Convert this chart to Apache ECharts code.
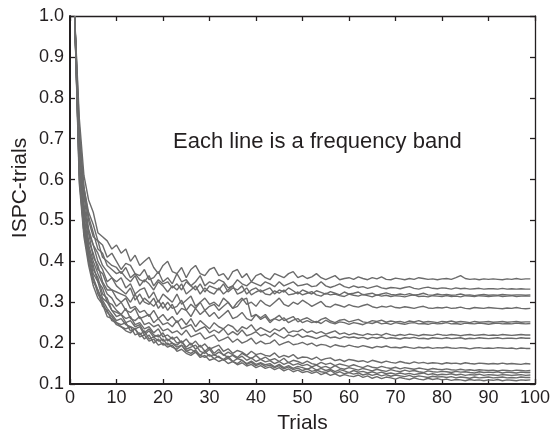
<!DOCTYPE html>
<html>
<head>
<meta charset="utf-8">
<script src="https://cdn.jsdelivr.net/npm/echarts@6/dist/echarts.min.js"></script>
<style>html,body{margin:0;padding:0;background:#fff}#c{width:555px;height:435px}</style>
</head>
<body>
<div id="c"></div>
<script>
// Trials 1..99 ; one array per frequency band
const xTicks = [0,10,20,30,40,50,60,70,80,90,100];
const yTicks = [0.1,0.2,0.3,0.4,0.5,0.6,0.7,0.8,0.9,1.0];

const band01 = [1,.75,.61,.55,.52,.47,.46,.45,.43,.44, .42,.43,.40,.415,.39,.40,.41,.385,.37,.39, .40,.375,.37,.385,.36,.38,.39,.37,.365,.38, .385,.365,.37,.355,.375,.38,.36,.37,.35,.365, .37,.36,.355,.37,.365,.36,.37,.375,.36,.365, .358,.362,.37,.36,.355,.36,.365,.355,.358,.36, .356,.362,.358,.355,.36,.357,.362,.356,.355,.359, .357,.355,.358,.356,.36,.358,.356,.357,.355,.357, .358,.356,.36,.365,.358,.356,.357,.355,.357,.356, .357,.356,.355,.357,.356,.358,.356,.357,.357];
const band02 = [1,.71,.58,.52,.49,.45,.44,.41,.42,.40, .38,.395,.39,.37,.365,.38,.355,.36,.375,.35, .36,.345,.37,.35,.355,.34,.35,.365,.34,.35, .345,.355,.35,.335,.34,.355,.345,.34,.35,.345, .34,.35,.345,.338,.35,.34,.345,.35,.34,.342, .345,.338,.34,.35,.34,.336,.34,.345,.338,.335, .34,.336,.338,.334,.337,.34,.335,.333,.336,.335, .333,.336,.338,.334,.332,.335,.337,.334,.333,.335, .334,.332,.335,.333,.334,.332,.333,.334,.332,.333, .333,.332,.334,.332,.333,.332,.333,.332,.332];
const band03 = [1,.70,.57,.50,.46,.45,.41,.40,.39,.385, .37,.385,.36,.37,.355,.35,.365,.34,.355,.345, .35,.335,.345,.33,.35,.34,.33,.345,.325,.34, .335,.33,.345,.325,.335,.33,.34,.32,.33,.335, .325,.33,.335,.32,.33,.325,.335,.328,.32,.33, .325,.32,.328,.324,.32,.326,.322,.318,.325,.32, .322,.325,.318,.32,.322,.317,.32,.323,.319,.318, .32,.318,.321,.317,.319,.322,.318,.317,.32,.318, .319,.317,.318,.32,.317,.318,.316,.318,.319,.317, .318,.317,.319,.318,.317,.318,.318,.317,.318];
const band04 = [1,.73,.58,.51,.47,.43,.42,.39,.38,.37, .375,.36,.35,.365,.34,.355,.345,.33,.35,.34, .325,.34,.33,.345,.32,.33,.34,.32,.335,.325, .32,.335,.32,.33,.34,.32,.325,.335,.318,.325, .33,.32,.318,.328,.322,.33,.318,.32,.325,.318, .322,.326,.318,.315,.322,.318,.32,.316,.314,.32, .317,.315,.319,.316,.313,.318,.315,.317,.314,.316, .315,.313,.316,.318,.314,.315,.313,.316,.315,.314, .316,.314,.315,.313,.316,.315,.314,.316,.315,.314, .315,.316,.314,.315,.316,.314,.315,.315,.315];
const band05 = [1,.69,.56,.48,.44,.42,.39,.375,.36,.35, .36,.335,.345,.32,.33,.335,.31,.325,.30,.32, .31,.30,.32,.295,.305,.315,.29,.30,.31,.295, .30,.29,.31,.30,.285,.30,.31,.295,.30,.29, .305,.295,.29,.30,.31,.295,.29,.30,.295,.305, .298,.29,.296,.302,.29,.288,.295,.292,.288,.294, .29,.288,.292,.295,.289,.286,.29,.288,.291,.287, .286,.289,.287,.285,.288,.29,.286,.285,.287,.286, .288,.285,.286,.288,.285,.284,.287,.286,.285,.287, .286,.285,.284,.286,.285,.287,.285,.284,.285];
const band06 = [1,.68,.54,.47,.44,.40,.38,.35,.36,.34, .33,.32,.335,.305,.32,.30,.295,.31,.285,.30, .28,.295,.27,.285,.28,.265,.285,.27,.28,.265, .275,.26,.27,.28,.26,.265,.275,.26,.255,.27, .262,.27,.255,.26,.268,.255,.26,.265,.252,.258, .262,.255,.25,.258,.262,.254,.25,.256,.258,.252, .255,.258,.252,.25,.255,.253,.256,.251,.254,.252, .253,.25,.254,.252,.255,.251,.253,.252,.25,.253, .252,.254,.251,.253,.252,.25,.253,.251,.252,.253, .251,.252,.253,.251,.252,.253,.251,.252,.252];
const band07 = [1,.66,.53,.45,.42,.38,.37,.34,.33,.325, .32,.315,.30,.32,.295,.31,.30,.29,.305,.285, .30,.285,.29,.305,.28,.295,.285,.30,.28,.29, .295,.28,.29,.30,.285,.29,.305,.31,.265,.27, .258,.265,.25,.26,.255,.262,.25,.256,.26,.25, .255,.25,.253,.248,.256,.25,.247,.252,.25,.246, .25,.248,.245,.25,.248,.252,.247,.249,.246,.25, .248,.246,.249,.25,.247,.248,.246,.249,.247,.248, .25,.247,.248,.246,.249,.248,.247,.249,.248,.246, .248,.249,.247,.248,.247,.249,.248,.247,.248];
const band08 = [1,.67,.52,.47,.41,.39,.35,.33,.33,.31, .30,.31,.285,.29,.275,.28,.265,.28,.26,.27, .255,.265,.25,.26,.245,.26,.24,.255,.245,.235, .25,.24,.235,.245,.24,.228,.24,.235,.245,.23, .238,.232,.226,.235,.23,.238,.225,.23,.228,.234, .226,.23,.224,.228,.222,.226,.23,.222,.225,.22, .224,.221,.219,.223,.22,.222,.219,.224,.22,.218, .221,.219,.222,.22,.218,.221,.22,.219,.222,.22, .219,.221,.22,.218,.22,.221,.219,.22,.221,.219, .22,.219,.221,.22,.219,.22,.221,.22,.22];
const band09 = [1,.64,.51,.44,.40,.37,.345,.32,.31,.29, .30,.28,.275,.285,.26,.265,.27,.25,.26,.245, .25,.24,.255,.235,.24,.245,.228,.235,.24,.225, .232,.225,.235,.22,.228,.22,.232,.218,.222,.228, .218,.222,.215,.225,.218,.212,.22,.216,.222,.214, .218,.215,.211,.216,.219,.213,.215,.211,.216,.213, .215,.212,.214,.21,.214,.212,.215,.211,.213,.212, .21,.213,.212,.214,.211,.212,.21,.213,.212,.211, .213,.211,.212,.213,.21,.212,.211,.213,.212,.211, .212,.213,.211,.212,.212,.211,.213,.212,.212];
const band10 = [1,.65,.50,.43,.39,.35,.335,.30,.295,.28, .27,.285,.26,.255,.265,.245,.25,.24,.245,.23, .235,.225,.23,.22,.232,.215,.22,.225,.21,.215, .22,.205,.21,.215,.202,.21,.20,.205,.212,.198, .205,.198,.20,.208,.195,.20,.204,.196,.198,.202, .196,.20,.193,.197,.195,.19,.196,.193,.191,.195, .192,.19,.194,.191,.188,.192,.19,.193,.189,.19, .188,.191,.189,.187,.19,.188,.19,.187,.189,.188, .19,.188,.187,.189,.188,.186,.188,.189,.187,.188, .187,.189,.188,.187,.188,.186,.188,.187,.187];
const band11 = [1,.63,.49,.43,.38,.36,.32,.31,.28,.275, .27,.26,.265,.245,.25,.235,.24,.225,.235,.215, .22,.21,.215,.20,.21,.195,.205,.19,.198,.185, .19,.195,.18,.186,.175,.182,.178,.17,.18,.172, .175,.17,.168,.176,.165,.17,.166,.172,.162,.166, .165,.16,.166,.158,.162,.164,.157,.16,.155,.16, .158,.155,.157,.153,.158,.155,.152,.156,.153,.151, .155,.152,.15,.154,.151,.153,.15,.152,.151,.149, .152,.15,.151,.149,.152,.15,.149,.151,.15,.149, .15,.149,.151,.149,.15,.149,.148,.15,.149];
const band12 = [1,.62,.48,.42,.37,.35,.31,.30,.28,.265, .27,.25,.255,.24,.245,.225,.235,.22,.215,.225, .205,.215,.20,.205,.19,.20,.185,.195,.18,.19, .175,.185,.17,.178,.172,.165,.175,.168,.162,.17, .16,.166,.158,.162,.155,.163,.152,.158,.155,.15, .156,.15,.147,.153,.148,.151,.145,.149,.146,.143, .147,.143,.14,.145,.141,.139,.143,.14,.138,.141, .137,.14,.138,.136,.139,.137,.135,.138,.136,.135, .137,.135,.134,.136,.134,.135,.133,.135,.134,.133, .134,.132,.134,.133,.132,.134,.133,.132,.133];
const band13 = [1,.61,.47,.41,.36,.33,.305,.285,.27,.255, .26,.245,.24,.235,.24,.22,.23,.215,.22,.205, .21,.20,.195,.205,.185,.19,.195,.18,.175,.185, .17,.178,.172,.165,.17,.162,.168,.158,.164,.155, .16,.154,.157,.15,.155,.148,.153,.146,.15,.145, .148,.142,.146,.14,.143,.138,.145,.139,.136,.14, .137,.134,.138,.135,.132,.136,.133,.131,.135,.132, .13,.134,.131,.133,.13,.128,.132,.13,.129,.131, .13,.128,.131,.129,.13,.128,.127,.13,.128,.129, .128,.13,.127,.129,.128,.127,.129,.128,.128];
const band14 = [1,.60,.47,.40,.36,.32,.30,.275,.265,.25, .245,.25,.23,.235,.22,.23,.21,.215,.205,.21, .195,.20,.19,.195,.18,.185,.178,.17,.18,.168, .172,.165,.16,.168,.155,.162,.158,.15,.156,.148, .152,.147,.15,.142,.148,.14,.145,.138,.143,.14, .136,.141,.134,.138,.133,.136,.13,.135,.132,.128, .133,.129,.131,.127,.13,.126,.129,.125,.127,.124, .127,.124,.126,.123,.125,.127,.123,.125,.122,.124, .123,.125,.122,.124,.121,.123,.122,.124,.121,.123, .122,.121,.123,.122,.121,.122,.123,.121,.122];
const band15 = [1,.62,.48,.40,.35,.33,.29,.28,.255,.25, .24,.235,.24,.22,.225,.21,.22,.20,.21,.195, .20,.19,.185,.195,.18,.175,.183,.17,.165,.172, .162,.168,.158,.163,.155,.15,.158,.148,.153,.145, .15,.143,.146,.14,.145,.137,.142,.135,.139,.133, .137,.131,.134,.13,.128,.133,.126,.13,.125,.128, .124,.127,.122,.125,.121,.124,.12,.123,.119,.122, .12,.118,.121,.117,.12,.118,.116,.119,.117,.118, .116,.118,.115,.117,.116,.114,.117,.115,.116,.117, .115,.116,.117,.115,.116,.115,.117,.116,.116];
const band16 = [1,.59,.46,.39,.34,.31,.295,.265,.26,.245, .24,.23,.225,.235,.215,.22,.205,.21,.195,.20, .19,.195,.18,.185,.175,.17,.178,.165,.17,.158, .162,.155,.16,.15,.155,.147,.152,.144,.148,.14, .145,.138,.142,.135,.14,.132,.137,.13,.134,.128, .131,.126,.13,.123,.127,.121,.125,.119,.123,.12, .118,.122,.116,.12,.114,.118,.113,.117,.115,.112, .116,.113,.111,.115,.112,.11,.114,.111,.113,.11, .112,.109,.111,.11,.108,.111,.109,.11,.108,.11, .109,.111,.108,.11,.109,.108,.11,.109,.11];

const bands = [band01,band02,band03,band04,band05,band06,band07,band08,band09,band10,band11,band12,band13,band14,band15,band16];

const FONT = '"Liberation Sans", Arial, Helvetica, sans-serif';
const AX = '#231f20';
const LINE = '#6b6b6b';

const chart = echarts.init(document.getElementById('c'), null, {renderer: 'canvas'});
const series = bands.map(arr => ({
  type: 'line',
  xAxisIndex: 0, yAxisIndex: 0,
  showSymbol: false,
  symbol: 'none',
  silent: true,
  lineStyle: {color: LINE, width: 1.4},
  data: arr.map((v, i) => [i + 1, v])
}));

const xBase = {type: 'value', min: xTicks[0], max: xTicks[xTicks.length-1], interval: 10, splitLine: {show: false}};
const yBase = {type: 'value', min: yTicks[0], max: yTicks[yTicks.length-1], interval: 0.1, splitLine: {show: false}};

chart.setOption({
  animation: false,
  backgroundColor: '#fff',
  grid: {left: 70, right: 20, top: 16, bottom: 51, containLabel: false, outerBoundsMode: 'none'},
  xAxis: [
    Object.assign({}, xBase, {
      position: 'bottom',
      name: 'Trials', nameLocation: 'middle', nameGap: 29,
      nameTextStyle: {fontFamily: FONT, fontSize: 21, color: AX},
      axisLine: {show: true, onZero: false, lineStyle: {color: AX, width: 2}},
      axisTick: {show: true, inside: true, length: 5, lineStyle: {color: AX, width: 1.3}},
      axisLabel: {show: true, margin: 5, fontFamily: FONT, fontSize: 18, color: AX}
    }),
    Object.assign({}, xBase, {
      position: 'top',
      axisLine: {show: true, onZero: false, lineStyle: {color: AX, width: 1.3}},
      axisTick: {show: true, inside: true, length: 5, lineStyle: {color: AX, width: 1.3}},
      axisLabel: {show: false}
    })
  ],
  yAxis: [
    Object.assign({}, yBase, {
      position: 'left',
      axisLine: {show: true, onZero: false, lineStyle: {color: AX, width: 2}},
      axisTick: {show: true, inside: true, length: 5, lineStyle: {color: AX, width: 1.3}},
      axisLabel: {show: true, margin: 6, fontFamily: FONT, fontSize: 18, color: AX,
        formatter: v => v.toFixed(1)}
    }),
    Object.assign({}, yBase, {
      position: 'right',
      axisLine: {show: true, onZero: false, lineStyle: {color: AX, width: 1.3}},
      axisTick: {show: true, inside: true, length: 5, lineStyle: {color: AX, width: 1.3}},
      axisLabel: {show: false}
    })
  ],
  graphic: [
    {
      type: 'text', left: 173, top: 131,
      style: {text: 'Each line is a frequency band', fontFamily: FONT, fontSize: 22, fill: AX}
    },
    {
      type: 'text', x: 20, y: 188, rotation: Math.PI / 2,
      style: {text: 'ISPC-trials', fontFamily: FONT, fontSize: 21, fill: AX,
        align: 'center', verticalAlign: 'middle'}
    }
  ],
  series: series
});
</script>
</body>
</html>
